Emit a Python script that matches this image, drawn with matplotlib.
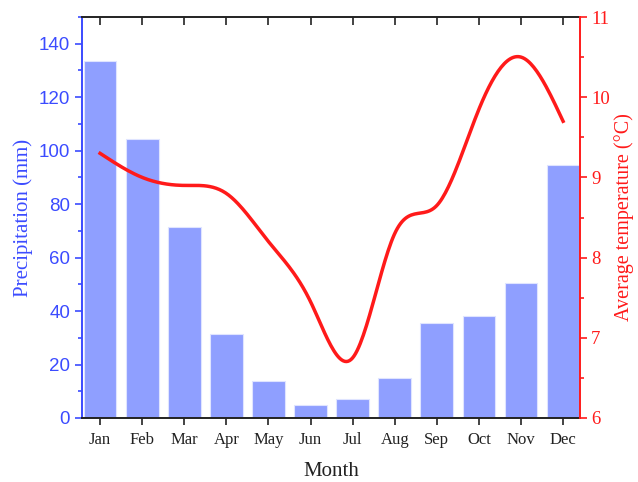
import numpy as np
import matplotlib
matplotlib.use("Agg")
from matplotlib import pyplot as plt
from matplotlib.ticker import MultipleLocator

months = ['Jan', 'Feb', 'Mar', 'Apr', 'May', 'Jun', 'Jul', 'Aug', 'Sep', 'Oct', 'Nov', 'Dec']
precip = [133.5, 104.5, 71.5, 31.5, 14.0, 5.0, 7.0, 15.0, 35.5, 38.0, 50.5, 94.5]
temp = [9.3, 9.0, 8.9, 8.8, 8.2, 7.45, 6.75, 8.3, 8.65, 9.85, 10.5, 9.7]


def natural_spline(x, y, xs):
    # plain natural cubic spline, only used to draw the smooth line
    x = np.asarray(x, float)
    y = np.asarray(y, float)
    n = len(x)
    h = np.diff(x)
    A = np.zeros((n, n))
    b = np.zeros(n)
    A[0, 0] = A[-1, -1] = 1
    for i in range(1, n - 1):
        A[i, i - 1] = h[i - 1]
        A[i, i] = 2 * (h[i - 1] + h[i])
        A[i, i + 1] = h[i]
        b[i] = 3 * ((y[i + 1] - y[i]) / h[i] - (y[i] - y[i - 1]) / h[i - 1])
    c = np.linalg.solve(A, b)
    idx = np.clip(np.searchsorted(x, xs) - 1, 0, n - 2)
    dx = xs - x[idx]
    bb = (y[idx + 1] - y[idx]) / h[idx] - h[idx] * (2 * c[idx] + c[idx + 1]) / 3
    dd = (c[idx + 1] - c[idx]) / (3 * h[idx])
    return y[idx] + bb * dx + c[idx] * dx ** 2 + dd * dx ** 3


blue = '#3b4bff'
red = '#ff1a1a'
serif = 'Liberation Serif'
sans = 'Liberation Sans'

fig = plt.figure(figsize=(6.38, 4.82), dpi=100)
ax = fig.add_axes([0.1285, 0.1328, 0.7805, 0.8319])
x = np.arange(len(months))

ax.bar(x, precip, width=0.78, color='#8f9fff', edgecolor='#dfe4ff', linewidth=0.8, zorder=2)
ax.set_xlim(-0.43, 11.4)
ax.set_ylim(0, 150)
ax.set_xticks(x)
ax.set_xticklabels(months, fontfamily=serif, fontsize=12, color='#222222')
ax.yaxis.set_major_locator(MultipleLocator(20))
ax.yaxis.set_minor_locator(MultipleLocator(10))
ax.tick_params(axis='y', which='both', colors=blue, direction='out', width=1.2)
ax.tick_params(axis='y', which='major', length=5, labelsize=13.5)
ax.tick_params(axis='y', which='minor', length=3)
for lab in ax.get_yticklabels():
    lab.set_fontfamily(sans)
ax.tick_params(axis='x', which='both', direction='out', length=5, width=1.2, color='#222222', pad=5)
ax.spines['left'].set_color(blue)
ax.spines['left'].set_linewidth(1.4)
ax.spines['right'].set_visible(False)
for s in ('top', 'bottom'):
    ax.spines[s].set_color('#222222')
    ax.spines[s].set_linewidth(1.4)
ax.set_ylabel('Precipitation (mm)', fontfamily=serif, fontsize=15, color=blue, labelpad=4)
ax.set_xlabel('Month', fontfamily=serif, fontsize=15, color='#222222', labelpad=10)

# top ticks point into the box
secx = ax.secondary_xaxis('top')
secx.set_xticks(x)
secx.set_xticklabels([])
secx.tick_params(direction='in', length=6, width=1.2, color='#222222')
secx.spines['top'].set_visible(False)

ax2 = ax.twinx()
xs = np.linspace(0, 11, 300)
ax2.plot(xs, natural_spline(x, temp, xs), color=red, lw=2.5, zorder=3)
ax2.set_ylim(6, 11)
ax2.yaxis.set_major_locator(MultipleLocator(1))
ax2.yaxis.set_minor_locator(MultipleLocator(0.5))
ax2.tick_params(axis='y', which='both', colors=red, direction='out', width=1.2)
ax2.tick_params(axis='y', which='major', length=5, labelsize=13.5, pad=3)
ax2.tick_params(axis='y', which='minor', length=3)
for lab in ax2.get_yticklabels():
    lab.set_fontfamily(serif)
ax2.spines['right'].set_color(red)
ax2.spines['right'].set_linewidth(1.4)
for s in ('left', 'top', 'bottom'):
    ax2.spines[s].set_visible(False)
ax2.set_ylabel('Average temperature (°C)', fontfamily=serif, fontsize=14.5, color=red, labelpad=3)

fig.savefig('out.png', dpi=100)
